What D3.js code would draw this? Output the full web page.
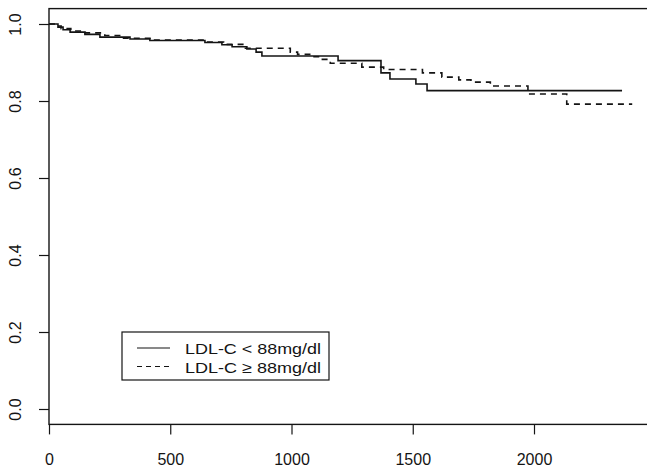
<!DOCTYPE html>
<html>
<head>
<meta charset="utf-8">
<script src="https://cdn.jsdelivr.net/npm/d3@7"></script>
<style>
  body { margin: 0; background: #fff; }
  svg { display: block; font-family: "Liberation Sans", Arial, sans-serif; }
</style>
</head>
<body>
<div id="chart"></div>
<script>
// survival steps (days, survival)
const lowTime = [0, 37, 58, 87, 148, 210, 334, 416, 643, 713, 755, 816, 854, 878, 1192, 1369, 1406, 1513, 1559, 2363];
const lowSurv = [1.0, 0.992, 0.985, 0.979, 0.973, 0.966, 0.961, 0.957, 0.952, 0.946, 0.941, 0.935, 0.927, 0.917, 0.905, 0.873, 0.857, 0.844, 0.827, 0.827];

const highTime = [0, 25, 50, 90, 150, 230, 300, 420, 640, 720, 810, 995, 1025, 1075, 1115, 1160, 1290, 1380, 1540, 1620, 1690, 1740, 1820, 1975, 2135, 2405];
const highSurv = [1.0, 0.995, 0.988, 0.982, 0.977, 0.970, 0.963, 0.958, 0.953, 0.947, 0.937, 0.927, 0.921, 0.915, 0.908, 0.898, 0.888, 0.882, 0.873, 0.862, 0.855, 0.849, 0.839, 0.818, 0.792, 0.792];

const xTicks = [0, 500, 1000, 1500, 2000];
const yTicks = [0, 0.2, 0.4, 0.6, 0.8, 1.0];
const legendLabels = ["LDL-C < 88mg/dl", "LDL-C \u2265 88mg/dl"];

const width = 647;
const height = 468;

const svg = d3.select("#chart")
  .append("svg")
  .attr("width", width)
  .attr("height", height);

// X scale
const xScale = d3.scaleLinear()
  .domain([0, 2000])
  .range([49, 534]);

// Y scale
const yScale = d3.scaleLinear()
  .domain([0, 1])
  .range([409, 24]);

const ink = "#141414";

// plot box (right side runs off the page)
const x0 = xScale(0), x1 = xScale(2496);
const yTop = yScale(1.04), yBot = yScale(-0.04);
svg.append("rect")
  .attr("x", x0)
  .attr("y", yTop)
  .attr("width", x1 - x0)
  .attr("height", yBot - yTop)
  .attr("fill", "none")
  .attr("stroke", ink)
  .attr("stroke-width", 1.4);

// X Axis
const xAxis = svg.append("g")
  .attr("transform", `translate(0,${yBot})`)
  .call(d3.axisBottom(xScale).tickValues(xTicks).tickSize(10).tickPadding(19).tickFormat(d3.format("d")));
xAxis.select(".domain").remove();
xAxis.selectAll("line").attr("stroke", ink).attr("stroke-width", 1.2);
xAxis.selectAll("text").attr("fill", ink).style("font-size", "16px");

// Y Axis
const yAxis = svg.append("g")
  .attr("transform", `translate(${x0},0)`)
  .call(d3.axisLeft(yScale).tickValues(yTicks).tickSize(10).tickFormat(d3.format(".1f")));
yAxis.select(".domain").remove();
yAxis.selectAll("line").attr("stroke", ink).attr("stroke-width", 1.2);
yAxis.selectAll("text")
  .attr("fill", ink)
  .style("font-size", "16px")
  .attr("text-anchor", "middle")
  .attr("dy", null)
  .attr("x", null)
  .attr("transform", "translate(-34,0) rotate(-90)")
  .attr("y", 6);

// Survival curves
const line = d3.line()
  .x(d => xScale(d[0]))
  .y(d => yScale(d[1]))
  .curve(d3.curveStepAfter);

svg.append("path")
  .datum(d3.zip(lowTime, lowSurv))
  .attr("d", line)
  .attr("fill", "none")
  .attr("stroke", ink)
  .attr("stroke-width", 1.6);

svg.append("path")
  .datum(d3.zip(highTime, highSurv))
  .attr("d", line)
  .attr("fill", "none")
  .attr("stroke", ink)
  .attr("stroke-width", 1.6)
  .attr("stroke-dasharray", "6,5");

// Legend
const legend = svg.append("g");
legend.append("rect")
  .attr("x", 122)
  .attr("y", 332)
  .attr("width", 207)
  .attr("height", 48)
  .attr("fill", "#fff")
  .attr("stroke", ink)
  .attr("stroke-width", 1.2);

legendLabels.forEach((label, i) => {
  const ly = 348 + i * 18.5;
  legend.append("line")
    .attr("x1", 137)
    .attr("x2", 170)
    .attr("y1", ly)
    .attr("y2", ly)
    .attr("stroke", ink)
    .attr("stroke-width", 1.2)
    .attr("stroke-dasharray", i === 0 ? null : "5,4");
  legend.append("text")
    .attr("x", 185)
    .attr("y", ly + 6)
    .attr("fill", ink)
    .style("font-size", "15.5px")
    .attr("textLength", 136)
    .attr("lengthAdjust", "spacingAndGlyphs")
    .text(label);
});
</script>
</body>
</html>
